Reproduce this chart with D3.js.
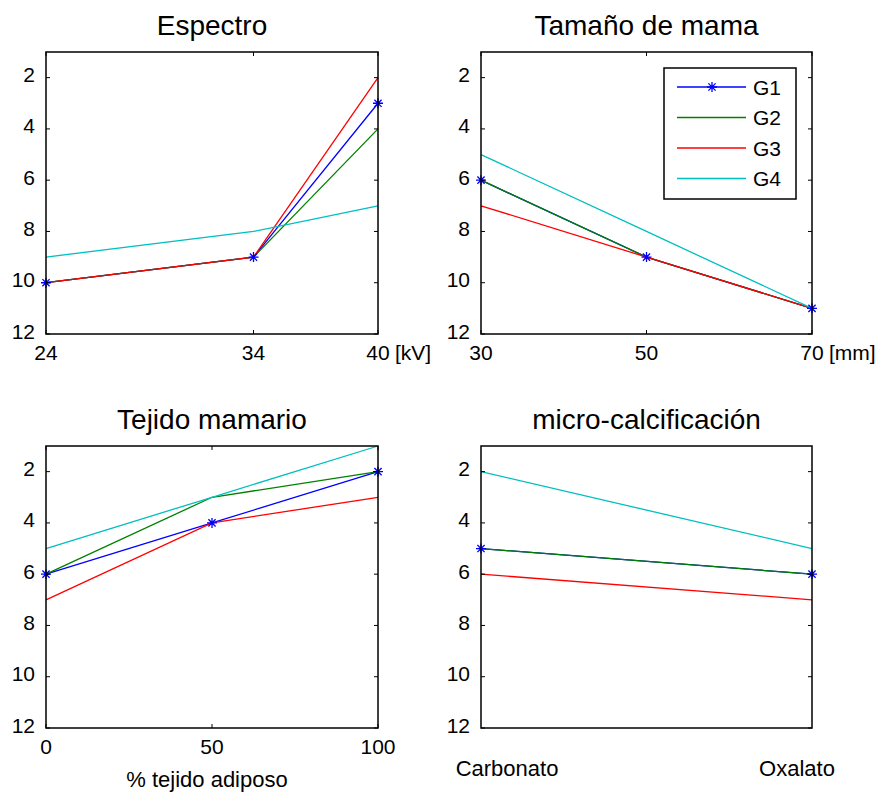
<!DOCTYPE html>
<html>
<head>
<meta charset="utf-8">
<script src="https://cdn.jsdelivr.net/npm/d3@7"></script>
<style>
  body { margin: 0; background: #fff; }
  svg { font-family: "Liberation Sans", Arial, sans-serif; }
</style>
</head>
<body>
<svg id="chart" width="880" height="792"></svg>
<script>
// ---- data ----
var groups = ["G1", "G2", "G3", "G4"];
var yTicks = [2, 4, 6, 8, 10, 12];

var espectroX = [24, 34, 40];
var espectroVals = [[10, 9, 3], [10, 9, 4], [10, 9, 2], [9, 8, 7]];

var mamaX = [30, 50, 70];
var mamaVals = [[6, 9, 11], [6, 9, 11], [7, 9, 11], [5, 8, 11]];

var tejidoX = [0, 50, 100];
var tejidoVals = [[6, 4, 2], [6, 3, 2], [7, 4, 3], [5, 3, 1]];

var calcCats = ["Carbonato", "Oxalato"];
var calcVals = [[5, 6], [5, 6], [6, 7], [2, 5]];

// ---- styles ----
var colors = ["#0000ff", "#008000", "#ff0000", "#00bfbf"];

var svg = d3.select("#chart");

var asterisk = function(g, x, y, c){
	var r = 5, d = 3.6;
	g.append("path")
		.attr("d", "M" + (x - r) + "," + y + "H" + (x + r) +
			"M" + x + "," + (y - r) + "V" + (y + r) +
			"M" + (x - d) + "," + (y - d) + "L" + (x + d) + "," + (y + d) +
			"M" + (x - d) + "," + (y + d) + "L" + (x + d) + "," + (y - d))
		.attr("stroke", c)
		.attr("stroke-width", 1.3)
		.attr("fill", "none");
};

var drawPanel = function(opt){
	var g = svg.append("g");
	var x = d3.scaleLinear().domain(opt.xDomain).range([opt.left, opt.right]);
	var y = d3.scaleLinear().domain([1, 12]).range([opt.top, opt.bottom]);
	var tl = 4;

	// title
	g.append("text")
		.attr("x", (opt.left + opt.right) / 2)
		.attr("y", opt.top - 17)
		.attr("text-anchor", "middle")
		.attr("font-size", 28)
		.text(opt.title);

	// series, G1 first so later ones sit on top
	var line = d3.line()
		.x(function(d){ return x(d[0]); })
		.y(function(d){ return y(d[1]); });

	opt.vals.forEach(function(v, i){
		var pts = v.map(function(val, j){ return [opt.xs[j], val]; });
		g.append("path")
			.datum(pts)
			.attr("d", line)
			.attr("fill", "none")
			.attr("stroke", colors[i])
			.attr("stroke-width", 1.3);
	});
	// G1 markers
	opt.vals[0].forEach(function(val, j){
		asterisk(g, x(opt.xs[j]), y(val), colors[0]);
	});

	// box
	g.append("rect")
		.attr("x", opt.left).attr("y", opt.top)
		.attr("width", opt.right - opt.left).attr("height", opt.bottom - opt.top)
		.attr("fill", "none").attr("stroke", "#000").attr("stroke-width", 1.5);

	// y ticks both sides, inward
	yTicks.forEach(function(t){
		var yy = y(t);
		g.append("line").attr("x1", opt.left).attr("x2", opt.left + tl)
			.attr("y1", yy).attr("y2", yy).attr("stroke", "#000");
		g.append("line").attr("x1", opt.right).attr("x2", opt.right - tl)
			.attr("y1", yy).attr("y2", yy).attr("stroke", "#000");
		g.append("text")
			.attr("x", opt.left - 11)
			.attr("y", yy + 4.5)
			.attr("text-anchor", "end")
			.attr("font-size", 21)
			.text(t);
	});

	// x ticks
	if (opt.xTicks){
		opt.xTicks.forEach(function(t){
			var xx = x(t);
			g.append("line").attr("x1", xx).attr("x2", xx)
				.attr("y1", opt.bottom).attr("y2", opt.bottom - tl).attr("stroke", "#000");
			g.append("line").attr("x1", xx).attr("x2", xx)
				.attr("y1", opt.top).attr("y2", opt.top + tl).attr("stroke", "#000");
			g.append("text")
				.attr("x", xx)
				.attr("y", opt.bottom + 26)
				.attr("text-anchor", "middle")
				.attr("font-size", 21)
				.text(t);
		});
	}
	if (opt.unit){
		g.append("text")
			.attr("x", x(opt.xDomain[1]) + 17)
			.attr("y", opt.bottom + 26)
			.attr("font-size", 21)
			.text(opt.unit);
	}
	return {g: g, x: x, y: y};
};

drawPanel({
	title: "Espectro", left: 46, right: 378, top: 52, bottom: 334,
	xDomain: [24, 40], xs: espectroX, xTicks: espectroX, vals: espectroVals, unit: "[kV]"
});

var p2 = drawPanel({
	title: "Tamaño de mama", left: 481, right: 812, top: 52, bottom: 334,
	xDomain: [30, 70], xs: mamaX, xTicks: mamaX, vals: mamaVals, unit: "[mm]"
});

var p3 = drawPanel({
	title: "Tejido mamario", left: 46, right: 378, top: 446, bottom: 728,
	xDomain: [0, 100], xs: tejidoX, xTicks: tejidoX, vals: tejidoVals
});
p3.g.append("text")
	.attr("x", 207).attr("y", 787)
	.attr("text-anchor", "middle")
	.attr("font-size", 22)
	.text("% tejido adiposo");

var p4 = drawPanel({
	title: "micro-calcificación", left: 481, right: 812, top: 446, bottom: 728,
	xDomain: [1, 2], xs: [1, 2], xTicks: null, vals: calcVals
});
p4.g.selectAll(".cat")
	.data(calcCats)
	.enter().append("text")
	.attr("x", function(d, i){ return i === 0 ? 507 : 797; })
	.attr("y", 776)
	.attr("text-anchor", "middle")
	.attr("font-size", 22)
	.text(function(d){ return d; });

// ---- legend ----
var leg = p2.g.append("g").attr("transform", "translate(664,68)");
leg.append("rect")
	.attr("width", 132).attr("height", 131)
	.attr("fill", "#fff").attr("stroke", "#000").attr("stroke-width", 1.5);
groups.forEach(function(name, i){
	var yy = 19 + i * 30.5;
	leg.append("line")
		.attr("x1", 13).attr("x2", 82)
		.attr("y1", yy).attr("y2", yy)
		.attr("stroke", colors[i]).attr("stroke-width", 1.3);
	if (i === 0) asterisk(leg, 48, yy, colors[0]);
	leg.append("text")
		.attr("x", 89).attr("y", yy + 7.5)
		.attr("font-size", 21)
		.text(name);
});
</script>
</body>
</html>
